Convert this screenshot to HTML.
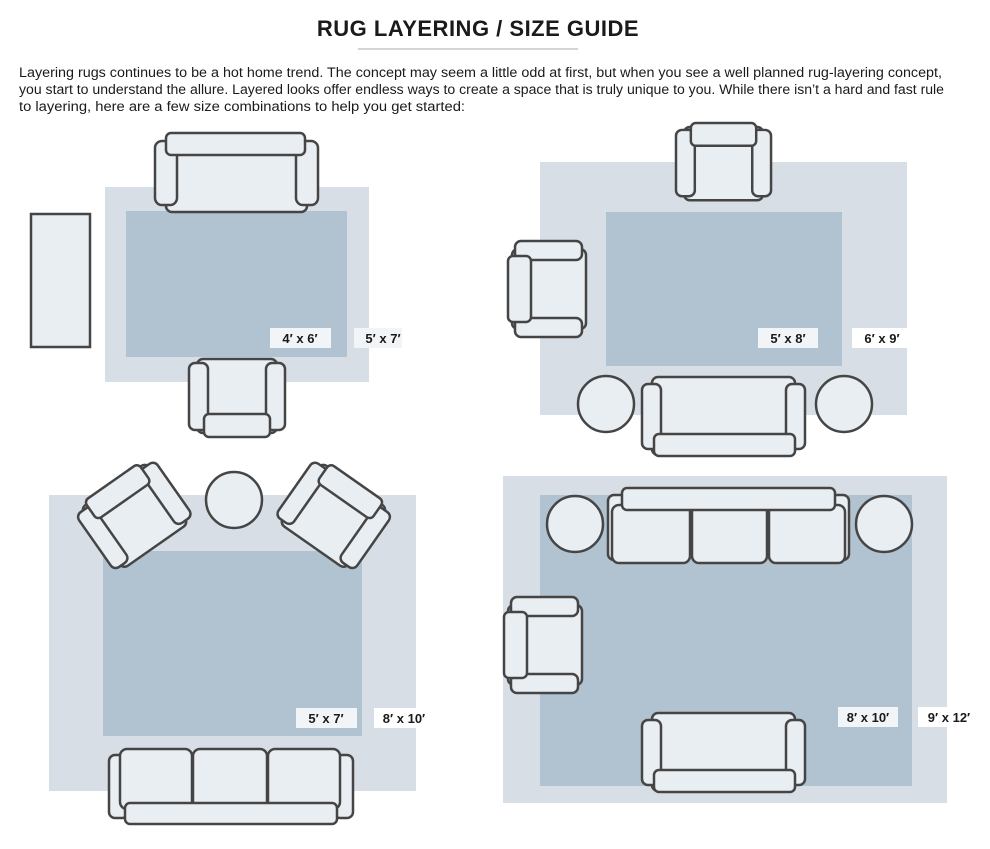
<!DOCTYPE html>
<html><head><meta charset="utf-8"><style>
body{margin:0;background:#fff;width:990px;height:844px;overflow:hidden;font-family:"Liberation Sans",sans-serif;}
</style></head><body>
<svg width="990" height="844" viewBox="0 0 990 844" xmlns="http://www.w3.org/2000/svg" font-family="Liberation Sans, sans-serif">
<defs>
<g id="chair" stroke="#454545" stroke-width="2.5" fill="#e9eef2">
<rect x="8" y="4" width="80" height="74" rx="6"/>
<rect x="0" y="7" width="19" height="67" rx="6"/>
<rect x="77" y="7" width="19" height="67" rx="6"/>
<rect x="15" y="0" width="66" height="23" rx="5"/>
</g>
<g id="sofa2" stroke="#454545" stroke-width="2.5" fill="#e9eef2">
<rect x="10" y="0" width="143" height="78" rx="6"/>
<rect x="0" y="7" width="19" height="65" rx="6"/>
<rect x="144" y="7" width="19" height="65" rx="6"/>
<rect x="12" y="57" width="141" height="22" rx="5"/>
</g>
</defs>
<text x="478" y="36" text-anchor="middle" font-size="22" font-weight="bold" fill="#1a1a1a" letter-spacing="0.5">RUG LAYERING / SIZE GUIDE</text>
<line x1="358" y1="49" x2="578" y2="49" stroke="#aaa" stroke-width="1"/>
<g font-size="14.2" fill="#1a1a1a">
<text x="19" y="77" textLength="923" lengthAdjust="spacingAndGlyphs">Layering rugs continues to be a hot home trend. The concept may seem a little odd at first, but when you see a well planned rug-layering concept,</text>
<text x="19" y="94" textLength="925" lengthAdjust="spacingAndGlyphs">you start to understand the allure. Layered looks offer endless ways to create a space that is truly unique to you. While there isn’t a hard and fast rule</text>
<text x="19" y="111" textLength="446" lengthAdjust="spacingAndGlyphs">to layering, here are a few size combinations to help you get started:</text>
</g>

<!-- Panel 1 -->
<rect x="105" y="187" width="264" height="195" fill="#d7dee6"/>
<rect x="126" y="211" width="221" height="146" fill="#b1c3d0"/>
<rect x="31" y="214" width="59" height="133" fill="#e9eef2" stroke="#454545" stroke-width="2.5"/>
<g stroke="#454545" stroke-width="2.5" fill="#e9eef2">
<rect x="166" y="141" width="141" height="71" rx="6"/>
<rect x="155" y="141" width="22" height="64" rx="7"/>
<rect x="296" y="141" width="22" height="64" rx="7"/>
<rect x="166" y="133" width="139" height="22" rx="5"/>
</g>
<use href="#chair" transform="translate(285,437) rotate(180)"/>
<rect x="270" y="328" width="61" height="20" fill="#f2f5f7"/>
<rect x="354" y="328" width="48" height="20" fill="#f2f5f7"/>
<g font-size="13" font-weight="bold" fill="#1a1a1a" text-anchor="middle">
<text x="300" y="343">4′ x 6′</text><text x="383" y="343">5′ x 7′</text>
</g>

<!-- Panel 2 -->
<rect x="540" y="162" width="367" height="253" fill="#d7dee6"/>
<rect x="606" y="212" width="236" height="154" fill="#b1c3d0"/>
<use href="#chair" transform="translate(676,123) scale(0.99,0.99)"/>
<use href="#chair" transform="translate(508,337) rotate(-90)"/>
<g stroke="#454545" stroke-width="2.5" fill="#e9eef2">
<circle cx="606" cy="404" r="28"/><circle cx="844" cy="404" r="28"/>
</g>
<use href="#sofa2" transform="translate(642,377)"/>
<rect x="758" y="328" width="60" height="20" fill="#f2f5f7"/>
<rect x="852" y="328" width="60" height="20" fill="#fff"/>
<g font-size="13" font-weight="bold" fill="#1a1a1a" text-anchor="middle">
<text x="788" y="343">5′ x 8′</text><text x="882" y="343">6′ x 9′</text>
</g>

<!-- Panel 3 -->
<rect x="49" y="495" width="367" height="296" fill="#d7dee6"/>
<rect x="103" y="551" width="259" height="185" fill="#b1c3d0"/>
<circle cx="234" cy="500" r="28" stroke="#454545" stroke-width="2.5" fill="#e9eef2"/>
<use href="#chair" transform="translate(134,515) rotate(-35) translate(-48,-40)"/>
<use href="#chair" transform="translate(334,515) rotate(35) translate(-48,-40)"/>
<g stroke="#454545" stroke-width="2.5" fill="#e9eef2">
<rect x="109" y="755" width="19" height="63" rx="6"/>
<rect x="334" y="755" width="19" height="63" rx="6"/>
<rect x="120" y="749" width="72" height="60" rx="7"/>
<rect x="193" y="749" width="74" height="60" rx="7"/>
<rect x="268" y="749" width="72" height="60" rx="7"/>
<rect x="125" y="803" width="212" height="21" rx="5"/>
</g>
<rect x="296" y="708" width="61" height="20" fill="#f2f5f7"/>
<rect x="374" y="708" width="60" height="20" fill="#fff"/>
<g font-size="13" font-weight="bold" fill="#1a1a1a" text-anchor="middle">
<text x="326" y="723">5′ x 7′</text><text x="404" y="723">8′ x 10′</text>
</g>

<!-- Panel 4 -->
<rect x="503" y="476" width="444" height="327" fill="#d7dee6"/>
<rect x="540" y="495" width="372" height="291" fill="#b1c3d0"/>
<g stroke="#454545" stroke-width="2.5" fill="#e9eef2">
<circle cx="575" cy="524" r="28"/><circle cx="884" cy="524" r="28"/>
<rect x="608" y="495" width="19" height="65" rx="6"/>
<rect x="830" y="495" width="19" height="65" rx="6"/>
<rect x="612" y="505" width="78" height="58" rx="7"/>
<rect x="692" y="505" width="75" height="58" rx="7"/>
<rect x="769" y="505" width="76" height="58" rx="7"/>
<rect x="622" y="488" width="213" height="22" rx="5"/>
</g>
<use href="#chair" transform="translate(504,693) rotate(-90)"/>
<use href="#sofa2" transform="translate(642,713)"/>
<rect x="838" y="707" width="60" height="20" fill="#f2f5f7"/>
<rect x="918" y="707" width="62" height="20" fill="#fff"/>
<g font-size="13" font-weight="bold" fill="#1a1a1a" text-anchor="middle">
<text x="868" y="722">8′ x 10′</text><text x="949" y="722">9′ x 12′</text>
</g>
</svg>
</body></html>
